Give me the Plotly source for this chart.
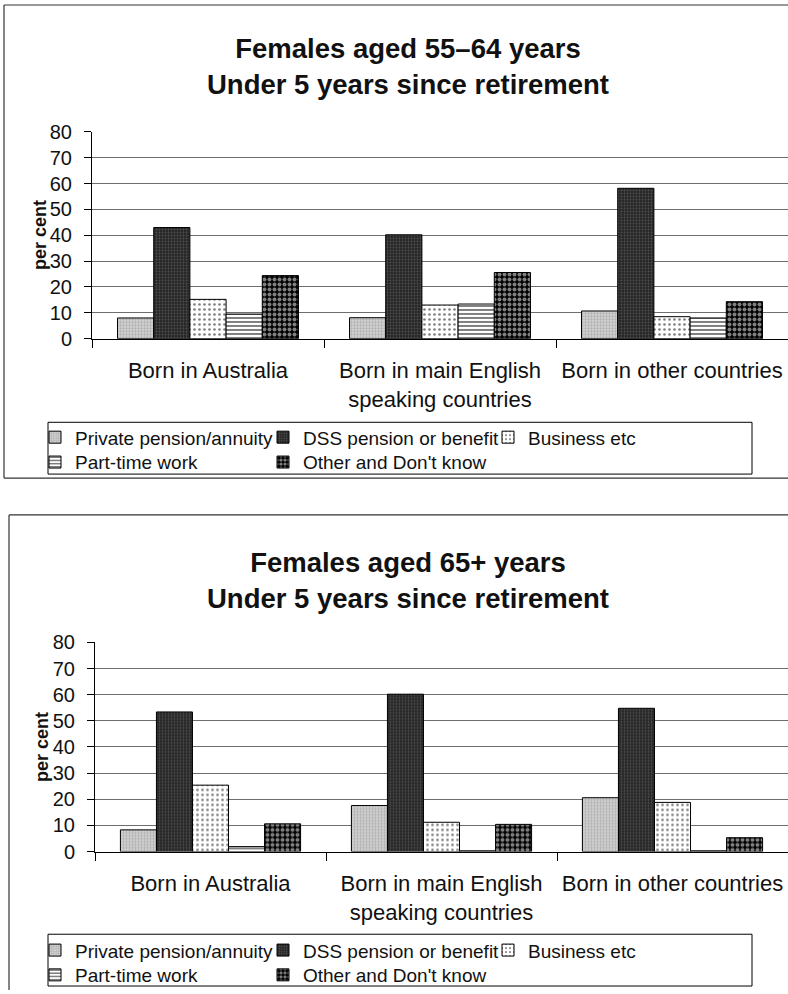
import plotly.graph_objects as go

# ---------------- data ----------------
categories = ["Born in Australia",
              "Born in main English<br>speaking countries",
              "Born in other countries"]
series_names = ["Private pension/annuity", "DSS pension or benefit",
                "Business etc", "Part-time work", "Other and Don't know"]

top_private = [8.0, 8.1, 10.7]
top_dss = [43.0, 40.2, 58.2]
top_business = [15.2, 13.0, 8.5]
top_parttime = [9.5, 13.4, 8.0]
top_other = [24.4, 25.6, 14.3]

bot_private = [8.3, 17.6, 20.6]
bot_dss = [53.4, 60.2, 54.8]
bot_business = [25.4, 11.2, 18.8]
bot_parttime = [1.9, 0.3, 0.3]
bot_other = [10.6, 10.4, 5.3]

y_ticks = [0, 10, 20, 30, 40, 50, 60, 70, 80]

top_title = "<b>Females aged 55\u201364 years<br>Under 5 years since retirement</b>"
bot_title = "<b>Females aged 65+ years<br>Under 5 years since retirement</b>"

# ---------------- styles ----------------
W, H = 788, 994
FONT = "Arial, Liberation Sans, Helvetica, sans-serif"
styles = [
    dict(color="#d4d4d4", pattern=dict(shape=".", fgcolor="#8a8a8a", size=3, solidity=0.45, fillmode="overlay")),
    dict(color="#262626", pattern=dict(shape=".", fgcolor="#7a7a7a", size=3, solidity=0.3, fillmode="overlay")),
    dict(color="#ffffff", pattern=dict(shape=".", fgcolor="#000000", size=5, solidity=0.22, fillmode="overlay")),
    dict(color="#ffffff", pattern=dict(shape="-", fgcolor="#000000", size=4, solidity=0.5, fillmode="overlay")),
    dict(color="#000000", pattern=dict(shape=".", fgcolor="#ffffff", size=5, solidity=0.5, fillmode="overlay")),
]

# legend layout: (column, row) of each series in the legend box
legend_col_sym = [55, 283, 508]          # symbol centre x (px)
legend_cells = [(0, 0), (1, 0), (2, 0), (0, 1), (1, 1)]
top_rows = [438, 463]                     # row text centre y (px)
bot_rows = [953, 978]


def px(v):
    return v / W


def py(v):
    return 1 - v / H


fig = go.Figure()

top_series = [top_private, top_dss, top_business, top_parttime, top_other]
bot_series = [bot_private, bot_dss, bot_business, bot_parttime, bot_other]

legend_common = dict(orientation="h", xanchor="left", yanchor="top",
                     font=dict(size=19, color="#111", family=FONT),
                     bgcolor="rgba(0,0,0,0)", borderwidth=0, visible=True)
legend_layouts = {}

for block, (series, rows, xa, ya) in enumerate([(top_series, top_rows, "x", "y"),
                                                  (bot_series, bot_rows, "x2", "y2")]):
    for i, (name, vals, st) in enumerate(zip(series_names, series, styles)):
        k = block * 5 + i + 1
        lid = "legend" if k == 1 else f"legend{k}"
        col, row = legend_cells[i]
        legend_layouts[lid] = dict(x=px(legend_col_sym[col] - 20),
                                   y=py(rows[row] - 18), **legend_common)
        fig.add_trace(go.Bar(x=categories, y=vals, name=name, xaxis=xa, yaxis=ya,
                             legend=lid, showlegend=True,
                             marker=dict(color=st["color"], pattern=st["pattern"],
                                         line=dict(color="black", width=1))))

xaxis_common = dict(type="category", showline=True, linecolor="black", linewidth=1,
                    ticks="outside", ticklen=8, tickcolor="black", tickson="boundaries",
                    showgrid=False, zeroline=False, automargin=False,
                    ticklabelstandoff=12,
                    tickfont=dict(size=22, color="#111", family=FONT))
yaxis_common = dict(range=[0, 80], tickvals=y_ticks, showline=True, linecolor="black",
                    linewidth=1, ticks="outside", ticklen=7, tickcolor="black",
                    showgrid=True, gridcolor="#6e6e6e", gridwidth=1, zeroline=False,
                    automargin=False, ticklabelstandoff=8,
                    tickfont=dict(size=20, color="#111", family=FONT))

fig.update_layout(
    width=W, height=H, autosize=False, showlegend=True,
    margin=dict(l=0, r=0, t=0, b=0),
    paper_bgcolor="white", plot_bgcolor="white",
    font=dict(family=FONT, color="#111"),
    barmode="group", bargap=0.22, bargroupgap=0,
    xaxis=dict(domain=[px(92), 1], anchor="y", **xaxis_common),
    yaxis=dict(domain=[py(340), py(132.5)], anchor="x", **yaxis_common),
    xaxis2=dict(domain=[px(95), 1], anchor="y2", **xaxis_common),
    yaxis2=dict(domain=[py(855), py(645)], anchor="x2", **yaxis_common),
    **legend_layouts,
)

# titles and y-axis labels
ann_font = dict(color="#111", family=FONT)
fig.add_annotation(text=top_title, x=px(408), y=py(67), xref="paper", yref="paper",
                   xanchor="center", yanchor="middle", showarrow=False,
                   font=dict(size=27.5, **ann_font))
fig.add_annotation(text=bot_title, x=px(408), y=py(583), xref="paper", yref="paper",
                   xanchor="center", yanchor="middle", showarrow=False,
                   font=dict(size=27.5, **ann_font))
fig.add_annotation(text="<b>per cent</b>", textangle=-90, x=px(40), y=py(236),
                   xref="paper", yref="paper", xanchor="center", yanchor="middle",
                   showarrow=False, font=dict(size=18, **ann_font))
fig.add_annotation(text="<b>per cent</b>", textangle=-90, x=px(42), y=py(750),
                   xref="paper", yref="paper", xanchor="center", yanchor="middle",
                   showarrow=False, font=dict(size=18, **ann_font))

# frames and legend boxes
line = dict(color="#333", width=1.2)
frame_lines = [
    (4, 5, 788, 5), (4, 5, 4, 480), (4, 480, 788, 480),
    (9, 517, 788, 517), (9, 517, 9, 994),
]
for x0, y0, x1, y1 in frame_lines:
    fig.add_shape(type="line", xref="paper", yref="paper",
                  x0=px(x0), y0=py(y0), x1=px(x1), y1=py(y1), line=line)
for (x0, y0, x1, y1) in [(48, 424, 752, 476), (48, 938, 752, 990)]:
    fig.add_shape(type="rect", xref="paper", yref="paper",
                  x0=px(x0), y0=py(y0), x1=px(x1), y1=py(y1),
                  line=dict(color="black", width=1), fillcolor="rgba(0,0,0,0)")

fig.write_html("out.html")
